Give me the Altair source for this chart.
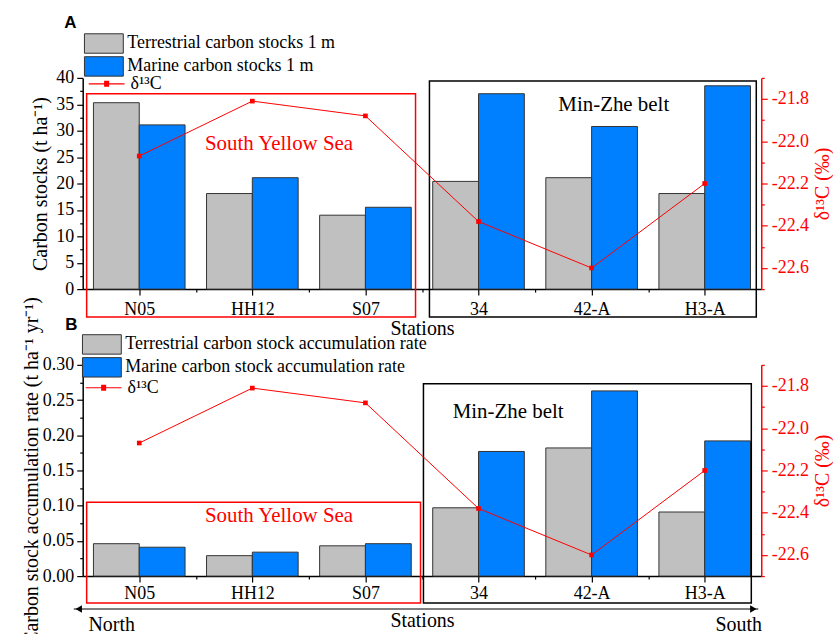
import json

import altair as alt
import pandas as pd

# ---------------- data ----------------
stations = ["N05", "HH12", "S07", "34", "42-A", "H3-A"]
terrestrial_stock = [35.3, 18.1, 14.0, 20.4, 21.1, 18.1]        # t ha-1, upper 1 m
marine_stock = [31.1, 21.1, 15.5, 37.0, 30.8, 38.5]
terrestrial_rate = [0.046, 0.029, 0.043, 0.097, 0.182, 0.091]   # t ha-1 yr-1
marine_rate = [0.041, 0.034, 0.046, 0.177, 0.263, 0.192]
delta13c = [-22.07, -21.81, -21.88, -22.38, -22.60, -22.20]     # per mil

# ---------------- style ----------------
SERIF = "Liberation Serif"
SANS = "Liberation Sans"
GRAY, BLUE, RED, EDGE = "#c0c0c0", "#0080ff", "#ff0000", "#333333"
W, H = 681, 212
BAR_W = 0.405
X_DOMAIN = [-0.5, 5.5]
D_DOMAIN = [-22.7, -21.7]
DELTA = "δ¹³C"
# legend glyphs: a 2:1 box, and a line segment with a small solid square
BOX_PATH = "M-2,-1H2V1H-2Z"
BOX_SIZE = 380          # sqrt -> 19.5 px tall, 39 px wide
LINE_PATH = ("M-3,0H3M-0.42,-0.4H0.42M-0.42,-0.2H0.42"
             "M-0.42,0.2H0.42M-0.42,0.4H0.42")
LINE_SIZE = 144         # sqrt -> 12, line 36 px long


def ticks(lo, hi, step):
    n = int(round((hi - lo) / step))
    return [round(lo + k * step, 4) for k in range(n + 1)]


x_scale = alt.Scale(domain=X_DOMAIN, nice=False, zero=False)
d_scale = alt.Scale(domain=D_DOMAIN, nice=False, zero=False)

X_TEST = "datum.value % 1 === 0"
D_TEST = "abs(round(datum.value * 10)) % 2 === 0"


def x_axis(title_pad, label_pad):
    return alt.Axis(
        title="Stations", values=ticks(0, 5, 0.5), tickCount=100, grid=False,
        labelExpr=f"{X_TEST} ? {json.dumps(stations)}[datum.value] : ''",
        tickSize={"condition": {"test": X_TEST, "value": 6}, "value": 3},
        labelOverlap=False, labelFlush=False, labelPadding=label_pad,
        titlePadding=title_pad, domainColor="black", tickColor="black",
        labelColor="black", titleColor="black",
    )


def y_axis(title, values, fmt, test, title_pad):
    return alt.Axis(
        title=title, values=values, tickCount=100, format=fmt, orient="left",
        grid=False, labelExpr=f"{test} ? datum.label : ''",
        tickSize={"condition": {"test": test, "value": 6}, "value": 3},
        labelOverlap=False, labelFlush=False, labelPadding=3,
        titlePadding=title_pad, titleLimit=1000, domainColor="black",
        tickColor="black", labelColor="black", titleColor="black",
    )


d_axis = alt.Axis(
    title="δ¹³C (‰)", orient="right", values=ticks(-22.7, -21.7, 0.1),
    tickCount=100, format=".1f", grid=False,
    labelExpr=f"{D_TEST} ? replace(datum.label, '\u2212', '-') : ''",
    tickSize={"condition": {"test": D_TEST, "value": 6}, "value": 3},
    labelOverlap=False, labelFlush=False, labelPadding=4,
    titleAngle=270, titleBaseline="top", titlePadding=4,
    domainColor=RED, tickColor=RED, labelColor=RED, titleColor=RED,
)


def bar_table(terr, mar, terr_label, mar_label):
    rows = []
    for i, (s, t, m) in enumerate(zip(stations, terr, mar)):
        rows.append(dict(station=s, series=terr_label, value=t, x0=i - BAR_W, x1=i))
        rows.append(dict(station=s, series=mar_label, value=m, x0=i, x1=i + BAR_W))
    return pd.DataFrame(rows)


line_df = pd.DataFrame({"pos": range(len(stations)), "station": stations,
                        "d13c": delta13c, "key": DELTA})


def panel(letter, letter_xy, terr, mar, terr_label, mar_label,
          y_domain, y_values, y_fmt, y_test, y_title, y_title_pad,
          x_title_pad, x_label_pad, regions, region_text,
          bar_leg_xy, line_leg_xy, extra_layers=()):
    y_scale = alt.Scale(domain=y_domain, nice=False, zero=True)
    bars = bar_table(terr, mar, terr_label, mar_label)

    bar_layer = alt.Chart(bars).mark_rect(stroke=EDGE, strokeWidth=1).encode(
        x=alt.X("x0:Q", scale=x_scale, axis=x_axis(x_title_pad, x_label_pad)),
        x2="x1:Q",
        y=alt.Y("value:Q", scale=y_scale,
                axis=y_axis(y_title, y_values, y_fmt, y_test, y_title_pad)),
        y2=alt.datum(0),
        fill=alt.Fill(
            "series:N",
            scale=alt.Scale(domain=[terr_label, mar_label], range=[GRAY, BLUE]),
            legend=alt.Legend(
                title=None, orient="none",
                legendX=bar_leg_xy[0] + 9.75, legendY=bar_leg_xy[1],
                symbolType=BOX_PATH, symbolSize=BOX_SIZE, symbolStrokeColor=EDGE,
                symbolStrokeWidth=1, labelOffset=13, rowPadding=-2,
                direction="vertical",
            ),
        ),
    )

    region_layer = alt.Chart(regions).mark_rect(fillOpacity=0, strokeWidth=1.5).encode(
        x=alt.X("x0:Q", scale=x_scale), x2="x1:Q",
        y=alt.Y("y0:Q", scale=y_scale), y2="y1:Q",
        stroke=alt.Stroke("color:N", scale=None),
    )

    region_label = alt.Chart(region_text).mark_text(
        font=SERIF, fontSize=21, align="center", baseline="middle"
    ).encode(
        x=alt.X("x:Q", scale=x_scale),
        y=alt.Y("y:Q", scale=y_scale),
        text="label:N",
        color=alt.Color("color:N", scale=None),
    )

    # panel letter in the top-left corner
    letter_df = pd.DataFrame({"label": [letter], "x": [letter_xy[0]], "y": [letter_xy[1]]})
    letter_layer = alt.Chart(letter_df).mark_text(
        font=SANS, fontSize=17, fontWeight="bold", align="center",
        baseline="middle", color="black",
    ).encode(
        x=alt.X("x:Q", scale=x_scale),
        y=alt.Y("y:Q", scale=y_scale),
        text="label:N",
    )

    left_layers = [bar_layer, region_layer, region_label, letter_layer]
    for make in extra_layers:
        left_layers.append(make(y_scale))
    left = alt.layer(*left_layers)

    line = alt.Chart(line_df).mark_line(strokeWidth=1).encode(
        x=alt.X("pos:Q", scale=x_scale),
        y=alt.Y("d13c:Q", scale=d_scale, axis=d_axis),
        stroke=alt.Stroke(
            "key:N", scale=alt.Scale(domain=[DELTA], range=[RED]),
            legend=alt.Legend(
                title=None, orient="none",
                legendX=line_leg_xy[0] + 12, legendY=line_leg_xy[1],
                symbolType=LINE_PATH, symbolSize=LINE_SIZE,
                symbolStrokeWidth=1.2, labelOffset=15,
            ),
        ),
    )
    pts = alt.Chart(line_df).mark_square(size=22, color=RED, opacity=1).encode(
        x=alt.X("pos:Q", scale=x_scale),
        y=alt.Y("d13c:Q", scale=d_scale),
    )
    right = alt.layer(line, pts)

    return alt.layer(left, right).resolve_scale(y="independent").properties(
        width=W, height=H,
    )


# annotated station groups (outline boxes and their names)
regions_a = pd.DataFrame({
    "x0": [-0.465, 2.566], "x1": [2.443, 5.456],
    "y0": [-5.28, -5.28], "y1": [37.0, 39.43], "color": [RED, "black"],
})
labels_a = pd.DataFrame({
    "label": ["South Yellow Sea", "Min-Zhe belt"],
    "x": [1.236, 4.196], "y": [27.5, 34.9], "color": [RED, "black"],
})
regions_b = pd.DataFrame({
    "x0": [-0.465, 2.513], "x1": [2.487, 5.412],
    "y0": [-0.0382, -0.0382], "y1": [0.1047, 0.2731], "color": [RED, "black"],
})
labels_b = pd.DataFrame({
    "label": ["South Yellow Sea", "Min-Zhe belt"],
    "x": [1.236, 3.262], "y": [0.085, 0.2335], "color": [RED, "black"],
})

# north-south direction arrow beneath the lower panel
arrow_df = pd.DataFrame({"x0": [-0.579], "x1": [5.474], "y": [-0.0467]})
heads_df = pd.DataFrame({"x": [-0.535, 5.43], "y": [-0.0467, -0.0467],
                         "shape": ["triangle-left", "triangle-right"]})
compass_df = pd.DataFrame({"label": ["North", "South"], "x": [-0.244, 5.30],
                           "y": [-0.0693, -0.0693]})


def arrow_line(y_scale):
    return alt.Chart(arrow_df).mark_rule(color="black", strokeWidth=1.2).encode(
        x=alt.X("x0:Q", scale=x_scale), x2="x1:Q",
        y=alt.Y("y:Q", scale=y_scale),
    )


def arrow_heads(y_scale):
    return alt.Chart(heads_df).mark_point(filled=True, color="black", size=55, opacity=1).encode(
        x=alt.X("x:Q", scale=x_scale),
        y=alt.Y("y:Q", scale=y_scale),
        shape=alt.Shape("shape:N", scale=None),
    )


def compass_text(y_scale):
    return alt.Chart(compass_df).mark_text(
        font=SERIF, fontSize=20, align="center", baseline="middle", color="black"
    ).encode(
        x=alt.X("x:Q", scale=x_scale),
        y=alt.Y("y:Q", scale=y_scale),
        text="label:N",
    )


panel_a = panel(
    "A", (-0.61, 50.4), terrestrial_stock, marine_stock,
    "Terrestrial carbon stocks 1 m", "Marine carbon stocks 1 m",
    [0, 40], ticks(0, 40, 2.5), "d", "abs(round(datum.value * 10)) % 50 === 0",
    "Carbon stocks (t ha⁻¹)", 5, 1, 5, regions_a, labels_a,
    (1, -45), (3, -3),
)

panel_b = panel(
    "B", (-0.60, 0.357), terrestrial_rate, marine_rate,
    "Terrestrial carbon stock accumulation rate", "Marine carbon stock accumulation rate",
    [0, 0.3], ticks(0, 0.3, 0.025), ".2f", "abs(round(datum.value * 1000)) % 50 === 0",
    "Carbon stock accumulation rate (t ha⁻¹ yr⁻¹)", 1, 9, 2, regions_b, labels_b,
    (-1, -31), (0, 14), extra_layers=(arrow_line, arrow_heads, compass_text),
)

chart = (
    alt.vconcat(panel_a, panel_b, spacing=76, bounds="flush")
    .resolve_scale(fill="independent", stroke="independent")
    .properties(padding={"left": 20, "top": 12, "right": 0, "bottom": 0})
    .configure(font=SERIF)
    .configure_view(stroke="transparent")
    .configure_axis(
        labelFont=SERIF, titleFont=SERIF, labelFontSize=18, titleFontSize=20,
        titleFontWeight="normal", domainWidth=1.5, tickWidth=1.2,
    )
    .configure_legend(labelFont=SERIF, labelFontSize=18, labelLimit=0, padding=0,
                      labelColor="black")
)

chart.save("out.html", embed_options={"renderer": "svg", "actions": False})
